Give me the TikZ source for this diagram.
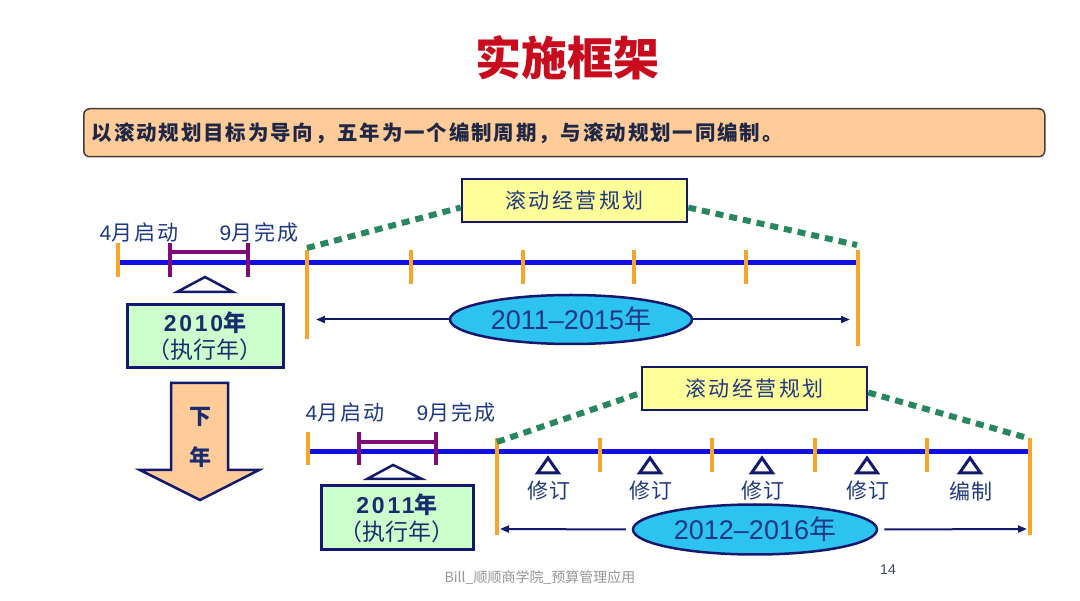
\documentclass[tikz,border=0pt]{standalone}
\usepackage{fontspec}
\usetikzlibrary{shapes.geometric,arrows.meta}
\setmainfont{Noto Sans CJK SC}
\newfontfamily\bannerfont{Noto Sans CJK SC}[LetterSpace=9]
\newfontfamily\labcjk{Noto Sans CJK SC}[LetterSpace=10]
\newfontfamily\lablat{Liberation Sans}[LetterSpace=10]
\newfontfamily\ycjk{Noto Sans CJK SC}[LetterSpace=12]
\newfontfamily\revcjk{Noto Sans CJK SC}[LetterSpace=8]
\newfontfamily\boxlat{Liberation Sans}[LetterSpace=12]
\newfontfamily\elat{Liberation Sans}
\definecolor{titlered}{RGB}{200,12,30}
\definecolor{bannerdraw}{RGB}{70,60,60}
\definecolor{bannertext}{RGB}{30,40,70}
\definecolor{lineblue}{RGB}{15,15,225}
\definecolor{tickorange}{RGB}{245,165,40}
\definecolor{brpurple}{RGB}{128,10,120}
\definecolor{dotgreen}{RGB}{40,135,95}
\definecolor{navy}{RGB}{20,25,110}
\definecolor{navytext}{RGB}{30,55,130}
\definecolor{boxtext}{RGB}{25,45,110}
\definecolor{greenfill}{RGB}{204,255,204}
\definecolor{yellowfill}{RGB}{255,255,153}
\definecolor{ellfill}{RGB}{45,195,240}
\definecolor{peach}{RGB}{255,204,153}
\definecolor{footgray}{RGB}{150,150,150}
\definecolor{pagenum}{RGB}{60,70,100}
\begin{document}
\begin{tikzpicture}[x=1pt,y=-1pt,
  bline/.style={line width=5pt, draw=lineblue},
  otick/.style={line width=4.5pt, draw=tickorange},
  pbr/.style={line width=4pt, draw=brpurple},
  gdot/.style={line width=6pt, draw=dotgreen, dash pattern=on 8pt off 6pt},
  bigtri/.style={line width=2.5pt, draw=navy, fill=white, line join=miter},
  smalltri/.style={line width=3pt, draw=navy, fill=white, line join=miter},
  lab/.style={text=navytext, inner sep=0pt, font=\labcjk\fontsize{21}{24}\selectfont},
  rev/.style={text=navytext, inner sep=0pt, font=\revcjk\fontsize{21}{24}\selectfont},
  gbox/.style={draw=navy, line width=3pt, fill=greenfill, text=boxtext, align=center, inner sep=0pt, font=\fontsize{23}{27}\selectfont},
  ybox/.style={draw=navy, line width=2.5pt, fill=yellowfill, minimum width=225pt, minimum height=43pt, inner sep=0pt, text=navytext, font=\ycjk\fontsize{21}{24}\selectfont},
  ell/.style={ellipse, draw=navy, line width=2.5pt, fill=ellfill, inner sep=0pt, text=navytext, font=\fontsize{27}{30}\selectfont},
  arr/.style={draw=navy, line width=2pt, -{Triangle[length=9pt,width=7pt]}},
  banner/.style={draw=bannerdraw, line width=1.5pt, fill=peach, rounded corners=6pt, text=bannertext, font=\bannerfont\bfseries\fontsize{20.5}{24}\selectfont}
]
\useasboundingbox (0,0) rectangle (1080,601);
\fill[white] (0,0) rectangle (1080,601);

% title and banner
\node[font=\bfseries\fontsize{46}{52}\selectfont, text=titlered] (title) at (567,58) {实施框架};
\node[banner, anchor=north west, minimum width=961pt, minimum height=48pt, text width=945pt, inner xsep=8pt, inner ysep=0pt, align=left] (banner) at (83,108) {以滚动规划目标为导向，五年为一个编制周期，与滚动规划一同编制。};

% ---------- top timeline ----------
\draw[bline] (118,263) -- (858,263);
\foreach \x in {411,523,634,746} \draw[otick] (\x,250) -- (\x,284);
\draw[otick] (118,243) -- (118,277);
\draw[otick] (307,250) -- (307,339);
\draw[otick] (858,250) -- (858,346);
\draw[pbr] (170,243) -- (170,277) (170,252) -- (248,252) (248,243) -- (248,277);
\node[lab] (l1a) at (139,233) {{\lablat 4}月启动};
\node[lab] (l1b) at (259,233) {{\lablat 9}月完成};
\draw[bigtri] (205,277) -- (233,292) -- (177,292) -- cycle;
\node[gbox, minimum width=156pt, minimum height=63pt] (x1) at (205,336.5) {{\bfseries\boxlat 2010}{\bfseries 年}\\（执行年）};
\node[ybox] (y1) at (574.5,200.5) {滚动经营规划};
\coordinate (d1s) at (307,248);
\coordinate (d1e) at (857,245);
\draw[gdot] (d1s) -- ([yshift=-7pt]y1.west);
\draw[gdot] ([yshift=-7pt]y1.east) -- (d1e);
\node[ell, minimum width=242pt, minimum height=49pt] (e1) at (571,319.5) {{\elat 2011–2015}年};
\coordinate (a1l) at (316,319.5);
\coordinate (a1r) at (850,319.5);
\draw[arr] (e1.west) -- (a1l);
\draw[arr] (e1.east) -- (a1r);

% ---------- down arrow ----------
\draw[draw=navy, line width=2.5pt, fill=peach, line join=miter]
  (171,383) -- (228,383) -- (228,470) -- (259,470) -- (200,500) -- (140,470) -- (171,470) -- cycle;
\node[text=boxtext, font=\bfseries\fontsize{22}{24}\selectfont] (dn1) at (200,417) {下};
\node[text=boxtext, font=\bfseries\fontsize{22}{24}\selectfont] (dn2) at (200,457) {年};

% ---------- bottom timeline ----------
\draw[bline] (308,452) -- (1030,452);
\foreach \x in {600,712,815,927} \draw[otick] (\x,438) -- (\x,472);
\draw[otick] (308,432) -- (308,465);
\draw[otick] (497,438) -- (497,535);
\draw[otick] (1030,438) -- (1030,535);
\draw[pbr] (359,432) -- (359,465) (359,442) -- (436,442) (436,432) -- (436,465);
\node[lab] (l2a) at (345,413) {{\lablat 4}月启动};
\node[lab] (l2b) at (456,413) {{\lablat 9}月完成};
\draw[bigtri] (393,465) -- (422,479) -- (367,479) -- cycle;
\node[gbox, minimum width=152pt, minimum height=64pt] (x2) at (397,518) {{\bfseries\boxlat 2011}{\bfseries 年}\\（执行年）};
\node[ybox] (y2) at (754.5,388.5) {滚动经营规划};
\coordinate (d2s) at (497,442);
\coordinate (d2e) at (1024,437);
\draw[gdot] (d2s) -- ([yshift=-4.5pt]y2.west);
\draw[gdot] ([yshift=-4pt]y2.east) -- (d2e);
\foreach \x/\t [count=\i] in {548/修订,650/修订,762/修订,867/修订,970/编制} {
  \draw[smalltri] (\x,458) -- (\x+10.5,473) -- (\x-10.5,473) -- cycle;
  \node[rev] (r\i) at (\x+1,491) {\t};
}
\node[ell, minimum width=244pt, minimum height=50pt] (e2) at (755,529.5) {{\elat 2012–2016}年};
\coordinate (a2l) at (500,529);
\coordinate (a2r) at (1027,529);
\draw[arr, shorten <=6pt] (e2.west) -- (a2l);
\draw[arr, shorten <=6pt] (e2.east) -- (a2r);

% ---------- footer ----------
\node[text=footgray, font=\fontsize{14}{16}\selectfont] (foot) at (540,578) {Bill\_顺顺商学院\_预算管理应用};
\node[text=pagenum, font=\elat\fontsize{14}{16}\selectfont] (page) at (888,570) {14};
\end{tikzpicture}
\end{document}
